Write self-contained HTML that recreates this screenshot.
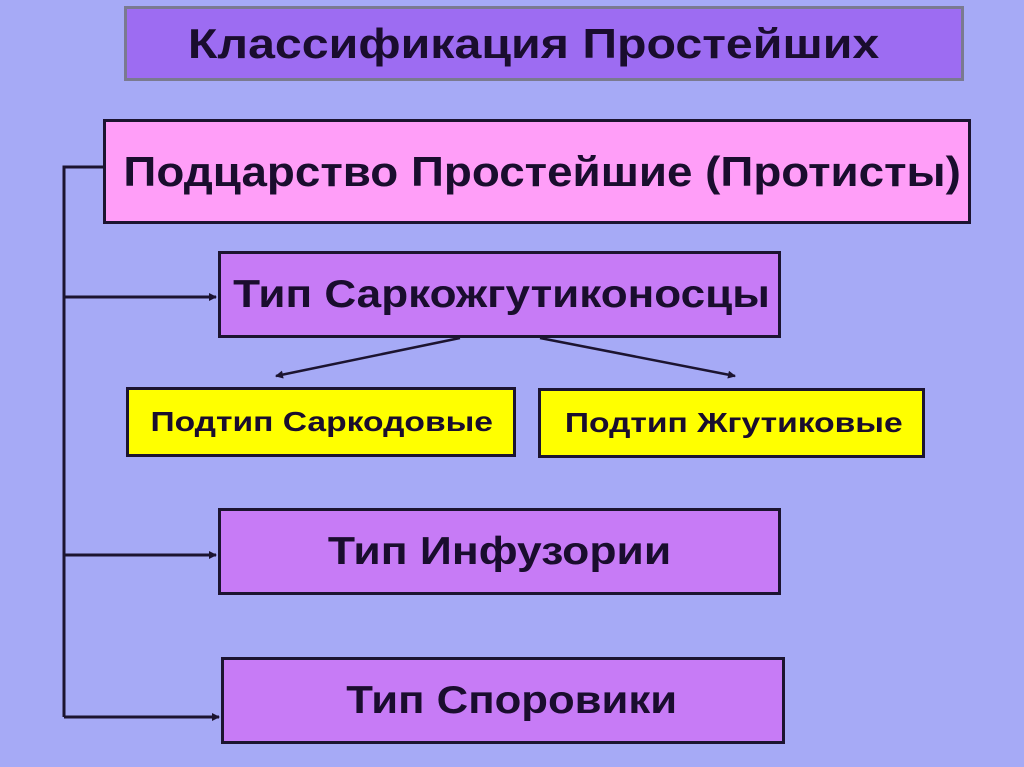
<!DOCTYPE html>
<html><head><meta charset="utf-8"><style>
body{margin:0;width:1024px;height:767px;background:#a6aaf6;position:relative;overflow:hidden;font-family:"Liberation Sans","Noto Sans CJK SC",sans-serif;font-weight:bold;color:#1a0d2e}
.b{position:absolute;box-sizing:border-box;border:3px solid #1c1430;display:flex;align-items:center;justify-content:center;white-space:nowrap}
.b span{display:inline-block}
</style></head><body>
<div class="b" style="left:124px;top:6px;width:840px;height:75px;background:#9d6cf2;border-color:#7a7a90;font-size:42px;padding-right:20px"><span style="transform:scaleX(1.15)">Классификация Простейших</span></div>
<div class="b" style="left:103px;top:119px;width:868px;height:105px;background:#ff9ef8;font-size:42px;padding-left:10px"><span style="transform:scaleX(1.09)">Подцарство Простейшие (Протисты)</span></div>
<div class="b" style="left:218px;top:251px;width:563px;height:87px;background:#c77bf6;font-size:39px;padding-left:4px"><span style="transform:scaleX(1.13)">Тип Саркожгутиконосцы</span></div>
<div class="b" style="left:126px;top:387px;width:390px;height:70px;background:#ffff00;font-size:28px;padding-left:2px"><span style="transform:scaleX(1.2)">Подтип Саркодовые</span></div>
<div class="b" style="left:538px;top:388px;width:387px;height:70px;background:#ffff00;font-size:28px;padding-left:4px"><span style="transform:scaleX(1.2)">Подтип Жгутиковые</span></div>
<div class="b" style="left:218px;top:508px;width:563px;height:87px;background:#c77bf6;font-size:39px"><span style="transform:scaleX(1.14)">Тип Инфузории</span></div>
<div class="b" style="left:221px;top:657px;width:564px;height:87px;background:#c77bf6;font-size:39px;padding-left:18px"><span style="transform:scaleX(1.12)">Тип Споровики</span></div>
<svg width="1024" height="767" style="position:absolute;left:0;top:0">
<defs><marker id="a" markerWidth="8" markerHeight="8" refX="7" refY="4" orient="auto" markerUnits="userSpaceOnUse"><path d="M0,0 L8,4 L0,8 z" fill="#1c1430"/></marker></defs>
<g stroke="#1c1430" stroke-width="3" fill="none">
<path d="M103,167 H64 V717"/>
<path d="M64,297 H216" marker-end="url(#a)"/>
<path d="M64,555 H216" marker-end="url(#a)"/>
<path d="M64,717 H219" marker-end="url(#a)"/>
<path d="M460,338 L276,376" marker-end="url(#a)" stroke-width="2.5"/>
<path d="M540,338 L735,376" marker-end="url(#a)" stroke-width="2.5"/>
</g></svg>
</body></html>
